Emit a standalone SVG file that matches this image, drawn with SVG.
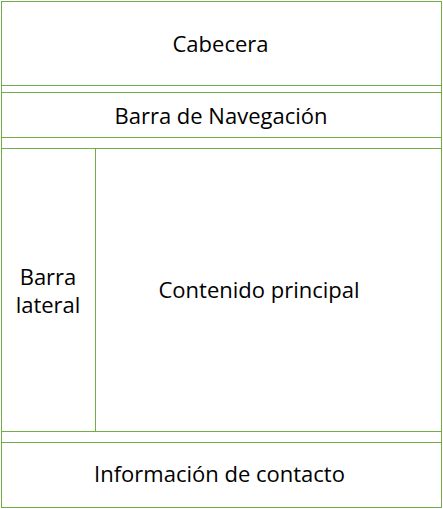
<svg xmlns="http://www.w3.org/2000/svg" width="443" height="509" viewBox="0 0 443 509">
<style>
.box{fill:#fff;stroke:#70AD47;stroke-width:1}
.t{font-family:"Open Sans","Liberation Sans",sans-serif;font-size:22px;fill:#000;text-anchor:middle}
</style>
<rect x="0" y="0" width="443" height="509" fill="#fff"/>
<g id="frame"><rect class="box" x="1.5" y="1.5" width="440" height="506"/></g>
<g id="cabecera"><rect class="box" x="1.5" y="1.5" width="440" height="84"/><text class="t" x="220.5" y="52">Cabecera</text></g>
<g id="navegacion"><rect class="box" x="1.5" y="92.5" width="440" height="45"/><text class="t" x="221" y="124">Barra de Navegación</text></g>
<g id="lateral"><rect class="box" x="1.5" y="148.5" width="94" height="283"/><text class="t" x="48" y="285">Barra</text><text class="t" x="48" y="313">lateral</text></g>
<g id="contenido"><rect class="box" x="95.5" y="148.5" width="346" height="283"/><text class="t" x="259" y="298">Contenido principal</text></g>
<g id="contacto"><rect class="box" x="1.5" y="442.5" width="440" height="65"/><text class="t" x="219.5" y="482">Información de contacto</text></g>
<g id="connectors"></g>
</svg>
